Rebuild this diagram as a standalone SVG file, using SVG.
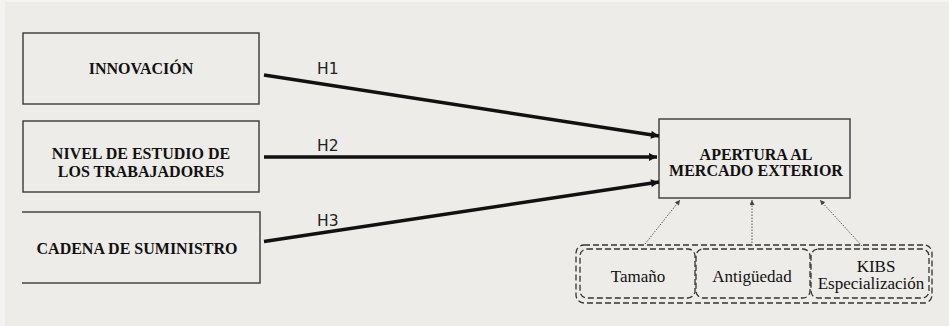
<svg xmlns="http://www.w3.org/2000/svg" width="949" height="326" viewBox="0 0 949 326">
<defs>
<marker id="ah" viewBox="0 0 10 10" refX="10" refY="5" markerWidth="10" markerHeight="8" markerUnits="userSpaceOnUse" orient="auto"><path d="M0,0 L10,5 L0,10 z" fill="#111"/></marker>
<marker id="sh" viewBox="0 0 10 10" refX="10" refY="5" markerWidth="6" markerHeight="5" markerUnits="userSpaceOnUse" orient="auto"><path d="M0,0 L10,5 L0,10 z" fill="#444"/></marker>
<style>
.box{fill:none;stroke:#444;stroke-width:1.5}
.t{font-family:"Liberation Serif","Times New Roman",serif;font-weight:bold;font-size:16px;fill:#111;text-anchor:middle}
.s{font-family:"Liberation Serif","Times New Roman",serif;font-size:17px;fill:#111;text-anchor:middle}
.h{font-family:"DejaVu Sans",Verdana,sans-serif;font-size:15.5px;fill:#222}
.c{stroke:#111;stroke-width:3.5;fill:none}
.d{stroke:#555;stroke-width:1;stroke-dasharray:1.5 1.5;fill:none}
.dash{fill:none;stroke:#333;stroke-width:1.3;stroke-dasharray:6 3}
</style>
</defs>
<rect width="949" height="326" fill="#f4f3f1"/>
<rect x="5" y="2" width="944" height="324" fill="#eeece9"/>
<g id="innovacion">
<rect class="box" x="23" y="33" width="236" height="71"/>
<text class="t" x="141" y="74">INNOVACIÓN</text>
</g>
<g id="nivel">
<rect class="box" x="23" y="121" width="236" height="71"/>
<text class="t" x="141" y="159">NIVEL DE ESTUDIO DE</text>
<text class="t" x="141" y="177">LOS TRABAJADORES</text>
</g>
<g id="cadena">
<path class="box" d="M22,212 H260 V283 H22"/>
<text class="t" x="137" y="254">CADENA DE SUMINISTRO</text>
</g>
<g id="apertura">
<rect class="box" x="659" y="119" width="191" height="79"/>
<text class="t" x="756" y="160" font-size="15.5">APERTURA AL</text>
<text class="t" x="756" y="176" font-size="15.5">MERCADO EXTERIOR</text>
</g>
<g id="controles">
<rect class="dash" x="576" y="245" width="356" height="58" rx="8"/>
<rect class="dash" x="580" y="249" width="115" height="49" rx="7"/>
<rect class="dash" x="696" y="249" width="114" height="49" rx="7"/>
<rect class="dash" x="811" y="249" width="118" height="49" rx="7" stroke="#777"/>
<text class="s" x="638" y="282">Tamaño</text>
<text class="s" x="752" y="282">Antigüedad</text>
<text class="s" x="876" y="271.5" font-size="14.5">KIBS</text>
<text class="s" x="871" y="289" font-size="14.5">Especialización</text>
</g>
<g id="connectors">
<line class="c" x1="264" y1="75" x2="659" y2="136" marker-end="url(#ah)"/>
<line class="c" x1="264" y1="157" x2="657" y2="157" marker-end="url(#ah)"/>
<line class="c" x1="264" y1="241.5" x2="659" y2="182" marker-end="url(#ah)"/>
<line class="d" x1="645" y1="244" x2="680" y2="200" marker-end="url(#sh)"/>
<line class="d" x1="752" y1="246" x2="752" y2="200" marker-end="url(#sh)"/>
<line class="d" x1="862" y1="246" x2="820" y2="200" marker-end="url(#sh)"/>
<text class="h" x="317" y="74">H1</text>
<text class="h" x="317" y="151">H2</text>
<text class="h" x="317" y="226">H3</text>
</g>
</svg>
